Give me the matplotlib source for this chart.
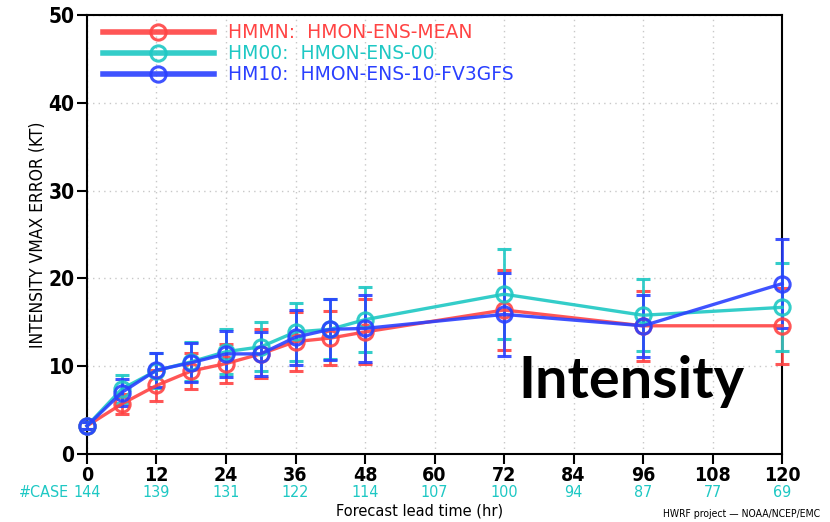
import matplotlib
matplotlib.use("Agg")
import matplotlib.pyplot as plt
from matplotlib.lines import Line2D

# Forecast lead times (hr)
lead = [0, 6, 12, 18, 24, 30, 36, 42, 48, 72, 96, 120]

# Mean VMAX error (KT) and error-bar half widths
hmmn_err = [3.2, 5.7, 7.8, 9.45, 10.3, 11.4, 12.8, 13.2, 13.9, 16.4, 14.6, 14.6]
hmmn_bar = [0.4, 1.15, 1.8, 2.0, 2.2, 2.8, 3.4, 3.1, 3.7, 4.55, 4.0, 4.35]
hm00_err = [3.2, 7.4, 9.5, 10.5, 11.65, 12.2, 13.9, 14.2, 15.3, 18.2, 15.8, 16.7]
hm00_bar = [0.4, 1.6, 2.0, 2.2, 2.55, 2.8, 3.3, 3.4, 3.7, 5.1, 4.1, 5.0]
hm10_err = [3.2, 7.0, 9.55, 10.4, 11.4, 11.4, 13.3, 14.2, 14.3, 15.9, 14.6, 19.4]
hm10_bar = [0.4, 1.5, 1.95, 2.2, 2.65, 2.5, 3.15, 3.45, 3.8, 4.7, 3.55, 5.1]

labels = ["HMMN:  HMON-ENS-MEAN", "HM00:  HMON-ENS-00", "HM10:  HMON-ENS-10-FV3GFS"]
colors = ["#ff4444", "#1ec8c4", "#2a40ff"]

xticks = [0, 12, 24, 36, 48, 60, 72, 84, 96, 108, 120]
yticks = [0, 10, 20, 30, 40, 50]
case_counts = [144, 139, 131, 122, 114, 107, 100, 94, 87, 77, 69]

cond = dict(family="DejaVu Sans", stretch="condensed")

fig = plt.figure(figsize=(8.30, 5.22), dpi=100)
ax = fig.add_axes([0.1048, 0.1303, 0.8375, 0.841])

series = [(hmmn_err, hmmn_bar), (hm00_err, hm00_bar), (hm10_err, hm10_bar)]
for (vals, bars), col in zip(series, colors):
    ax.errorbar(lead, vals, yerr=bars, color=col, lw=2.4, elinewidth=2.0,
                capsize=5, capthick=2.0, marker="o", markersize=11,
                markerfacecolor="none", markeredgewidth=2.2,
                alpha=0.9, clip_on=False, zorder=3)

ax.set_xlim(0, 120)
ax.set_ylim(0, 50)
ax.set_xticks(xticks)
ax.set_yticks(yticks)
ax.grid(True, color="#c8c8c8", linestyle=(0, (1, 3)), lw=1.0)
ax.set_xticklabels([str(t) for t in xticks], fontsize=14, fontweight="bold", **cond)
ax.set_yticklabels([str(t) for t in yticks], fontsize=15, fontweight="bold", **cond)
ax.tick_params(direction="out", length=7, width=1.5, pad=2, color="black")
for sp in ax.spines.values():
    sp.set_linewidth(1.5)

ax.set_ylabel("INTENSITY VMAX ERROR (KT)", fontsize=12.5, labelpad=1, **cond)

# Case counts beneath the lead-time labels
trans = ax.get_xaxis_transform()
for t, n in zip(xticks, case_counts):
    ax.text(t, -0.087, str(n), transform=trans, ha="center", va="center",
            color="#1ec8c4", fontsize=11.5, **cond)
ax.text(-3.1, -0.087, "#CASE", transform=trans, ha="right", va="center",
        color="#1ec8c4", fontsize=11.5, **cond)

fig.text(0.506, 0.022, "Forecast lead time (hr)", ha="center", va="center",
         fontsize=10.5, family="DejaVu Sans")
fig.text(0.988, 0.015, "HWRF project \u2014 NOAA/NCEP/EMC", ha="right", va="center",
         fontsize=7.5, **cond)

ax.text(0.62, 0.128, "Intensity", transform=ax.transAxes, ha="left", va="baseline",
        fontsize=41.5, fontweight="bold", family=["Lato", "DejaVu Sans"], zorder=5)

handles = [Line2D([], [], color=c, lw=4, marker="o", markersize=11,
                  markerfacecolor="none", markeredgewidth=2.2, alpha=0.9)
           for c in colors]
leg = ax.legend(handles, labels, loc="upper left", frameon=False,
                prop=dict(family="DejaVu Sans", size=13.5), handlelength=5.9,
                handletextpad=0.75, labelspacing=0.1, borderaxespad=0.15,
                borderpad=0.3, bbox_to_anchor=(0.011, 1.0))
for txt, col in zip(leg.get_texts(), colors):
    txt.set_color(col)

fig.savefig("out.png", dpi=100)
